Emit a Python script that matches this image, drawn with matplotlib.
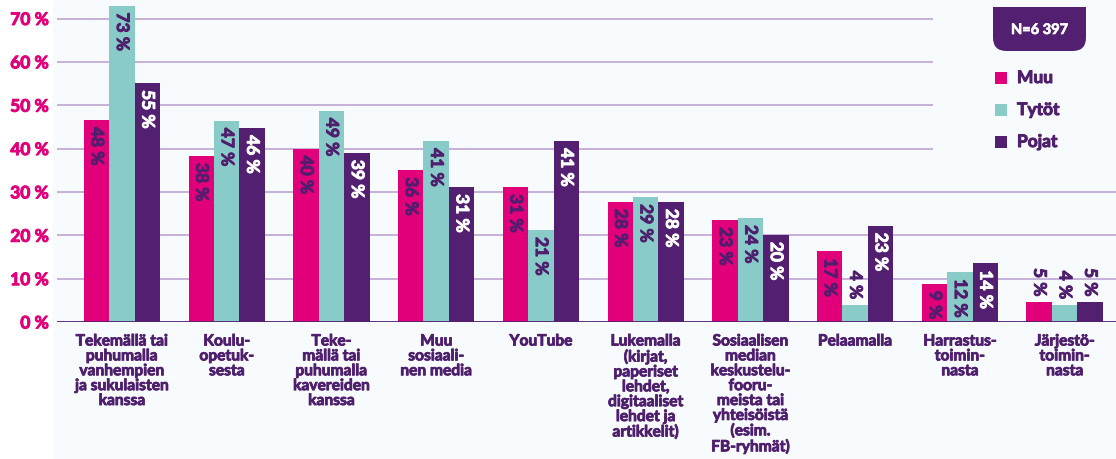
import numpy as np
import matplotlib
matplotlib.use("Agg")
import matplotlib.pyplot as plt
import matplotlib.patheffects as pe
from matplotlib.patches import Rectangle, FancyBboxPatch

# ── data ──────────────────────────────────────────────
categories = [
    "Tekemällä tai\npuhumalla\nvanhempien\nja sukulaisten\nkanssa",
    "Koulu-\nopetuk-\nsesta",
    "Teke-\nmällä tai\npuhumalla\nkavereiden\nkanssa",
    "Muu\nsosiaali-\nnen media",
    "YouTube",
    "Lukemalla\n(kirjat,\npaperiset\nlehdet,\ndigitaaliset\nlehdet ja\nartikkelit)",
    "Sosiaalisen\nmedian\nkeskustelu-\nfooru-\nmeista tai\nyhteisöistä\n(esim.\nFB-ryhmät)",
    "Pelaamalla",
    "Harrastus-\ntoimin-\nnasta",
    "Järjestö-\ntoimin-\nnasta",
]
series = ["Muu", "Tytöt", "Pojat"]

# bar heights as drawn
muu   = [46.6, 38.3, 40.0, 35.0, 31.1, 27.7, 23.5, 16.3, 8.8, 4.6]
tytot = [73.0, 46.4, 48.7, 41.7, 21.2, 28.8, 24.0, 4.0, 11.5, 4.0]
pojat = [55.1, 44.7, 39.0, 31.1, 41.7, 27.7, 20.1, 22.2, 13.5, 4.6]

# printed labels
muu_lbl   = [48, 38, 40, 36, 31, 28, 23, 17, 9, 5]
tytot_lbl = [73, 47, 49, 41, 21, 29, 24, 4, 12, 4]
pojat_lbl = [55, 46, 39, 31, 41, 28, 20, 23, 14, 5]

n_label = "N=6 397"
yticks = [0, 10, 20, 30, 40, 50, 60, 70]

# ── style ─────────────────────────────────────────────
C_MUU = "#e2007a"
C_TYT = "#88cbc8"
C_POJ = "#531f70"
C_TXT = "#4f1f6e"
C_GRID = "#c6b2d8"
BG = "#f7fbfd"
FONT = ["Lato", "DejaVu Sans"]
plt.rcParams["font.family"] = FONT


def heavy(color, lw=0.7):
    # thicken bold glyphs a bit (black weight look)
    return [pe.withStroke(linewidth=lw, foreground=color)]


W, H = 1116, 460
fig = plt.figure(figsize=(W / 100, H / 100), dpi=100, facecolor="white")
fig.patches.append(Rectangle((53 / W, 0), 1, 1, transform=fig.transFigure,
                             facecolor=BG, edgecolor="none", zorder=-10))

ax = fig.add_axes([57 / W, 137 / H, 1 - 57 / W, 323 / H])
ax.set_facecolor(BG)
for s in ax.spines.values():
    s.set_visible(False)

x = np.arange(len(categories))
bw = 0.243
cols = [C_MUU, C_TYT, C_POJ]
vals = [muu, tytot, pojat]
lbls = [muu_lbl, tytot_lbl, pojat_lbl]
lbl_cols = [C_TXT, C_TXT, "white"]

for i, (v, c) in enumerate(zip(vals, cols)):
    ax.bar(x + (i - 1) * bw, v, width=bw, color=c, zorder=3)

# grid lines (upper ones stop before legend)
for y in yticks[1:]:
    ax.axhline(y, xmin=0, xmax=1 if y <= 30 else 0.826, color=C_GRID, lw=1.4, zorder=1)
ax.axhline(0, color=C_POJ, lw=2, zorder=4)

# value labels
for i in range(3):
    for j in range(len(categories)):
        v = vals[i][j]
        xp = x[j] + (i - 1) * bw
        if v < 6:
            ax.annotate(f"{lbls[i][j]} %", (xp, v), xytext=(0, 4), textcoords="offset points",
                        rotation=270, ha="center", va="bottom", fontsize=12.5,
                        fontweight="bold", color=C_TXT, zorder=5,
                        path_effects=heavy(C_TXT))
        else:
            ax.annotate(f"{lbls[i][j]} %", (xp, v), xytext=(0, -5), textcoords="offset points",
                        rotation=270, ha="center", va="top", fontsize=12.5,
                        fontweight="bold", color=lbl_cols[i], zorder=5,
                        path_effects=heavy(lbl_cols[i]))

ax.set_xlim(-0.62, 9.49)
ax.set_ylim(0, 74.5)
ax.set_yticks(yticks)
ax.set_yticklabels([f"{t} %" for t in yticks], fontsize=12.5, fontweight="bold", color=C_MUU)
ax.set_xticks(x)
ax.set_xticklabels(categories, fontsize=11.2, fontweight="bold", color=C_TXT,
                   linespacing=1.08, multialignment="center")
for t in ax.get_yticklabels():
    t.set_path_effects(heavy(C_MUU))
for t in ax.get_xticklabels():
    t.set_path_effects(heavy(C_TXT, 0.6))
ax.tick_params(axis="both", length=0)
ax.tick_params(axis="y", pad=6)
ax.tick_params(axis="x", pad=9)

# ── legend box ────────────────────────────────────────
bx0, by0, bx1, by1 = 993, 8, 1086, 52
fig.patches.append(FancyBboxPatch((bx0 / W, 1 - by1 / H), (bx1 - bx0) / W, (by1 - by0) / H,
                                  boxstyle="round,pad=0,rounding_size=0.012",
                                  mutation_aspect=W / H,
                                  transform=fig.transFigure, facecolor=C_POJ, edgecolor="none"))
fig.patches.append(Rectangle((bx0 / W, 1 - (by0 + 20) / H), (bx1 - bx0) / W, 20 / H,
                             transform=fig.transFigure, facecolor=C_POJ, edgecolor="none"))
fig.text((bx0 + bx1) / 2 / W, 1 - 31 / H, n_label, ha="center", va="center",
         fontsize=10.5, fontweight="bold", color="white", path_effects=heavy("white", 0.5))

for k, (name, c) in enumerate(zip(series, cols)):
    yc = 79 + 32 * k
    fig.patches.append(Rectangle((995 / W, 1 - (yc + 6) / H), 12 / W, 12 / H,
                                 transform=fig.transFigure, facecolor=c, edgecolor="none"))
    fig.text(1017 / W, 1 - yc / H, name, ha="left", va="center",
             fontsize=12.5, fontweight="bold", color=C_TXT, path_effects=heavy(C_TXT))

fig.savefig("out.png", dpi=100, facecolor=fig.get_facecolor())
